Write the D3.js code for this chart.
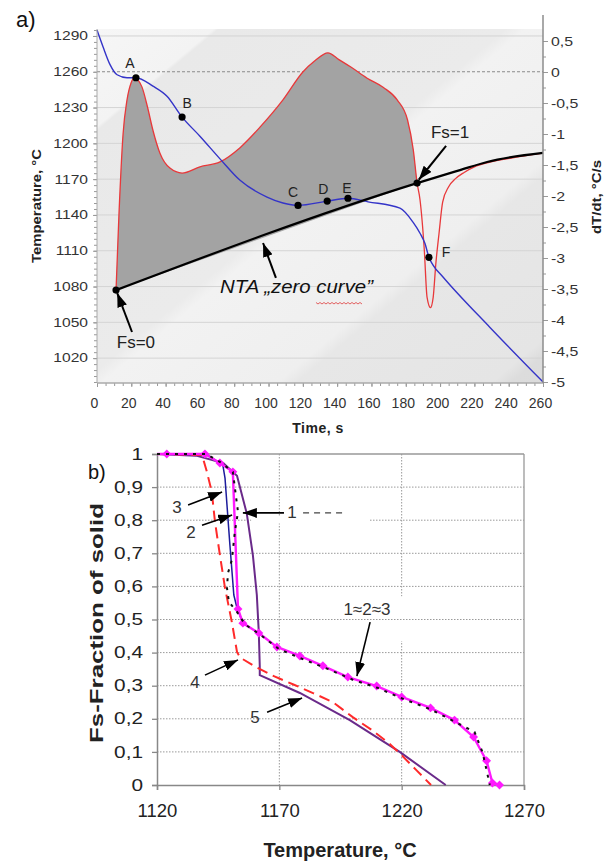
<!DOCTYPE html>
<html>
<head>
<meta charset="utf-8">
<script src="https://cdn.jsdelivr.net/npm/d3@7"></script>
<style>
  body { margin: 0; background: #fff; }
  text { font-family: Arial, "Liberation Sans", sans-serif; }
</style>
</head>
<body>
<div id="chart"></div>
<script>
// ---------- panel a data ----------
var timeTicks = d3.range(0, 261, 20);
var tempTicks = d3.range(1020, 1291, 30);
var rateTicks = d3.range(-5, 0.51, 0.5);

// cooling curve, [time s, temperature C]
var coolingCurve = [[0,1295],[3.5,1281],[7.6,1266],[11.7,1257.5],[17.5,1255],[22.7,1255],[32.6,1248],
  [40.8,1239.5],[49.6,1222],[60,1206],[71.7,1187],[83.4,1169],[99.1,1155],[108.4,1150],[117.2,1148],
  [134.2,1151.6],[146.3,1154],[158,1151],[176.6,1145.7],[184.2,1134],[188.3,1124.7],[191.2,1116],
  [193.5,1104.5],[195.9,1098],[201.7,1088],[229.1,1045.7],[260,1000]];

// first derivative, [time s, dT/dt C/s]
var rateCurve = [[11.1,-3.52],[12.8,-2.3],[15.2,-1.0],[17.5,-0.45],[19.8,-0.18],[21.8,-0.1],[23.5,-0.12],
  [26.2,-0.24],[29.4,-0.56],[32.6,-0.94],[36.7,-1.31],[42.5,-1.55],[49.6,-1.63],[60,-1.53],[71.7,-1.45],
  [83.4,-1.22],[95,-0.89],[108.4,-0.45],[120,0],[127,0.18],[134.6,0.31],[141,0.2],[148,0.08],[157.5,-0.1],
  [167,-0.25],[175,-0.45],[181,-0.77],[184.4,-1.26],[186.6,-1.79],[188.3,-2.06],[190.8,-2.87],[192.4,-3.63],
  [194.4,-3.8],[196,-3.63],[197.5,-3.1],[199.4,-2.6],[201.5,-2.1],[205,-1.85],[209,-1.72],[214,-1.62],
  [220,-1.53],[228,-1.46],[243,-1.38],[260,-1.31]];

// NTA zero curve, [time s, temperature C]
var zeroCurve = [[11.1,1077],[186.6,1166.7],[211.6,1177.6],[227.4,1184.4],[260,1192]];

// characteristic points
var pointNames = ["A", "B", "C", "D", "E", "F", "Fs=0", "Fs=1"];
var pointTimes = [22.7, 49.6, 117.2, 134.2, 146.3, 193.5, 11.1, 186.6];
var pointTemps = [1255, 1222, 1148, 1151.6, 1154, 1104.5, 1077, 1166.7];

// ---------- panel b data ----------
var fsTicks = d3.range(0, 1.001, 0.1);
var tempTicksB = [1120, 1170, 1220, 1270];

var curve123 = [[1120,1],[1124,1],[1139.6,1],[1145.7,0.973],[1151,0.946],[1153.1,0.532],[1155.1,0.489],
  [1161.6,0.459],[1169,0.417],[1178.4,0.39],[1187.8,0.36],[1198,0.326],[1209.8,0.299],[1220,0.266],
  [1231.8,0.233],[1241.6,0.196],[1249.4,0.145],[1254.7,0.073],[1257.1,0.006],[1260,0]];
var curve1 = [[1120,1],[1140,1],[1146,0.975],[1151,0.946],[1153.1,0.825],[1151.8,0.764],[1150.6,0.68],
  [1149,0.64],[1148.6,0.595],[1149.4,0.553],[1152.7,0.523],[1156,0.485],[1162,0.455],[1170,0.41],
  [1178,0.385],[1190,0.35],[1200,0.318],[1210,0.294],[1220,0.262],[1232,0.228],[1242,0.19],
  [1249.8,0.16],[1253,0.1],[1254.7,0.045],[1256,0]];
var curve3 = [[1120,1],[1140,1],[1146.9,0.967],[1147.8,0.927],[1149.8,0.725],[1151.4,0.574],
  [1152.7,0.535],[1155.1,0.489]];
var curve4 = [[1120,1],[1138.4,0.997],[1140.4,0.946],[1142.4,0.885],[1143.7,0.795],[1145.7,0.695],
  [1147.8,0.595],[1150.6,0.492],[1152.7,0.402],[1154,0.385],[1160,0.358],[1168,0.328],[1176,0.303],
  [1184,0.277],[1192,0.25],[1200,0.205],[1208,0.165],[1215,0.125],[1220,0.09],[1226,0.045],[1232,0]];
var curve5 = [[1120,1],[1136,0.995],[1147,0.973],[1152.7,0.934],[1156.7,0.82],[1159.2,0.694],
  [1160.8,0.574],[1161.6,0.462],[1162,0.36],[1162,0.332],[1178.4,0.278],[1198.8,0.196],
  [1219.2,0.1],[1238,0]];

var commaFmt = function(d) { return (+(+d).toFixed(1) + "").replace(".", ","); };

var svg = d3.select("#chart").append("svg")
    .attr("width", 608).attr("height", 863);

var defs = svg.append("defs");
defs.append("marker")
    .attr("id", "head")
    .attr("markerUnits", "userSpaceOnUse")
    .attr("viewBox", "0 0 14 10")
    .attr("refX", 14).attr("refY", 5)
    .attr("markerWidth", 14).attr("markerHeight", 10)
    .attr("orient", "auto")
  .append("path").attr("d", "M0,0 L14,5 L0,10 Z").attr("fill", "#000");

// diagonal shading of the excel plot area
var grad = defs.append("linearGradient").attr("id", "bg")
    .attr("gradientUnits", "userSpaceOnUse")
    .attr("x1", 97).attr("y1", 29).attr("x2", 497).attr("y2", 508);
[[0,"#f6f6f6"],[0.12,"#f3f3f3"],[0.125,"#e9e9e9"],[0.42,"#ebebeb"],[0.44,"#f2f2f2"],
 [0.62,"#efefef"],[0.64,"#e7e7e7"],[0.84,"#e5e5e5"],[0.86,"#dcdcdc"],[1,"#d9d9d9"]]
  .forEach(function(s) { grad.append("stop").attr("offset", s[0]).attr("stop-color", s[1]); });

// ================= panel a =================
var x = d3.scaleLinear().domain([0, 260]).range([97, 543]);
var yT = d3.scaleLinear().domain([1000, 1295]).range([382, 30]);
var yR = d3.scaleLinear().domain([-5, 0.5]).range([382, 41]);

var ga = svg.append("g");
ga.append("rect").attr("x", 97).attr("y", 29).attr("width", 446).attr("height", 354)
    .attr("fill", "url(#bg)");

// gridlines
ga.append("g").selectAll("line").data(tempTicks).enter().append("line")
    .attr("x1", 97).attr("x2", 543)
    .attr("y1", function(d) { return yT(d); }).attr("y2", function(d) { return yT(d); })
    .attr("stroke", function(d) { return d === 1260 ? "#8a8a8a" : "#d4d4d4"; })
    .attr("stroke-dasharray", function(d) { return d === 1260 ? "3,2" : null; })
    .attr("stroke-width", 1);

// area between dT/dt and zero curve
var lineR = d3.line().x(function(d) { return x(d[0]); }).y(function(d) { return yR(d[1]); })
    .curve(d3.curveMonotoneX);
var lineT = d3.line().x(function(d) { return x(d[0]); }).y(function(d) { return yT(d[1]); })
    .curve(d3.curveMonotoneX);
var fsEnd = zeroCurve[1][0];
var areaPath = lineR(rateCurve.filter(function(d) { return d[0] <= fsEnd; })) +
    "L" + x(zeroCurve[1][0]) + "," + yT(zeroCurve[1][1]) +
    "L" + x(zeroCurve[0][0]) + "," + yT(zeroCurve[0][1]) + "Z";
ga.append("path").attr("d", areaPath).attr("fill", "#a3a3a3");

ga.append("path").attr("d", lineR(rateCurve))
    .attr("fill", "none").attr("stroke", "#e8383a").attr("stroke-width", 1.3);
ga.append("path").attr("d", lineT(coolingCurve))
    .attr("fill", "none").attr("stroke", "#3434c8").attr("stroke-width", 1.4);
ga.append("path").attr("d", lineT(zeroCurve))
    .attr("fill", "none").attr("stroke", "#000").attr("stroke-width", 2.2);

// axes
var axL = ga.append("g").attr("transform", "translate(97,0)")
    .call(d3.axisLeft(yT).tickValues(d3.range(1000, 1296, 5)).tickSize(3).tickFormat(""));
var axL2 = ga.append("g").attr("transform", "translate(97,0)")
    .call(d3.axisLeft(yT).tickValues(tempTicks).tickSize(4).tickPadding(8).tickFormat(d3.format("d")));
axL2.selectAll("text").attr("font-size", 12).attr("fill", "#333")
    .attr("transform", "scale(1.3,1)").attr("x", -9 / 1.3);
var axR = ga.append("g").attr("transform", "translate(543,0)")
    .call(d3.axisRight(yR).tickValues(d3.range(-5, 0.51, 0.25)).tickSize(3).tickFormat(""));
var axR2 = ga.append("g").attr("transform", "translate(543,0)")
    .call(d3.axisRight(yR).tickValues(rateTicks).tickSize(5).tickFormat(commaFmt));
axR2.selectAll("text").attr("font-size", 12.5).attr("fill", "#333")
    .attr("transform", "scale(1.27,1)").attr("x", 8 / 1.27);
var axB = ga.append("g").attr("transform", "translate(0,383)")
    .call(d3.axisBottom(x).tickValues(d3.range(0, 261, 5)).tickSize(3).tickFormat(""));
var axB2 = ga.append("g").attr("transform", "translate(0,383)")
    .call(d3.axisBottom(x).tickValues(timeTicks).tickSize(4).tickPadding(11).tickFormat(d3.format("d")));
axB2.selectAll("text").attr("font-size", 14).attr("fill", "#333").attr("dx", -3);
[axL, axL2, axR, axR2, axB, axB2].forEach(function(a) {
  a.select(".domain").remove();
  a.selectAll(".tick line").attr("stroke", "#999");
});
ga.append("line").attr("x1", 97).attr("x2", 97).attr("y1", 29).attr("y2", 383).attr("stroke", "#aaa");
ga.append("line").attr("x1", 97).attr("x2", 543).attr("y1", 383).attr("y2", 383).attr("stroke", "#aaa").attr("stroke-width", 1.5);
ga.append("line").attr("x1", 543).attr("x2", 543).attr("y1", 15).attr("y2", 383).attr("stroke", "#8c8c8c").attr("stroke-width", 1.5);

// characteristic points
ga.append("g").selectAll("circle").data(pointNames).enter().append("circle")
    .attr("cx", function(d, i) { return x(pointTimes[i]); })
    .attr("cy", function(d, i) { return yT(pointTemps[i]); })
    .attr("r", 3.6).attr("fill", "#000");

// point labels (offsets in px from the point)
var labelOff = { A: [-6, -15], B: [5, -14], C: [-5, -13], D: [-4, -12], E: [-1, -10], F: [17, -5] };
ga.append("g").selectAll("text").data(pointNames.slice(0, 6)).enter().append("text")
    .attr("x", function(d, i) { return x(pointTimes[i]) + labelOff[d][0]; })
    .attr("y", function(d, i) { return yT(pointTemps[i]) + labelOff[d][1]; })
    .attr("text-anchor", "middle").attr("dominant-baseline", "central")
    .attr("font-size", 14).attr("fill", "#222").text(function(d) { return d; });

function arrow(g, x1, y1, x2, y2, w) {
  g.append("line").attr("x1", x1).attr("y1", y1).attr("x2", x2).attr("y2", y2)
    .attr("stroke", "#000").attr("stroke-width", w || 2).attr("marker-end", "url(#head)");
}
arrow(ga, x(203.5), yT(1197.8), x(187.6), yT(1169.5), 2);
arrow(ga, x(20.4), yT(1041.9), x(11.8), yT(1074.5), 2);
arrow(ga, x(104.3), yT(1087.2), x(96.8), yT(1116.5), 2);

ga.append("text").attr("x", x(205.8)).attr("y", yT(1209.5)).attr("text-anchor", "middle")
    .attr("dominant-baseline", "central").attr("font-family", "Lato").attr("font-size", 17)
    .attr("fill", "#222").text("Fs=1");
ga.append("text").attr("x", x(22.7)).attr("y", yT(1033.5)).attr("text-anchor", "middle")
    .attr("dominant-baseline", "central").attr("font-family", "Lato").attr("font-size", 17)
    .attr("fill", "#222").text("Fs=0");
var ntaX = x(71.7), ntaY = yT(1074.6);
ga.append("text").attr("x", ntaX).attr("y", ntaY)
    .attr("font-family", "Lato").attr("font-style", "italic").attr("font-size", 18)
    .attr("textLength", 153).attr("lengthAdjust", "spacingAndGlyphs")
    .attr("fill", "#111").text("NTA \u201Ezero curve\u201D");
// spell-check squiggle under "curve"
var sq = d3.range(0, 48, 2).map(function(d, i) { return [ntaX + 96 + d, ntaY + 10 + (i % 2 ? 1 : -0.5)]; });
ga.append("path").attr("d", d3.line()(sq)).attr("fill", "none").attr("stroke", "#e05050").attr("stroke-width", 0.9);

// titles
ga.append("text").attr("x", 16).attr("y", 27).attr("font-size", 22).attr("fill", "#111").text("a)");
ga.append("text").attr("transform", "translate(41,206) rotate(-90)").attr("text-anchor", "middle")
    .attr("font-size", 12.5).attr("font-weight", "bold").attr("fill", "#222")
    .attr("textLength", 114).attr("lengthAdjust", "spacingAndGlyphs").text("Temperature, \u00B0C");
ga.append("text").attr("transform", "translate(601,197) rotate(-90)").attr("text-anchor", "middle")
    .attr("font-size", 12.5).attr("font-weight", "bold").attr("fill", "#222")
    .attr("textLength", 74).attr("lengthAdjust", "spacingAndGlyphs").text("dT/dt, \u00B0C/s");
ga.append("text").attr("x", 318).attr("y", 433).attr("text-anchor", "middle")
    .attr("font-size", 14).attr("font-weight", "bold").attr("fill", "#222")
    .attr("letter-spacing", 0.5).text("Time, s");

// ================= panel b =================
var xb = d3.scaleLinear().domain([1120, 1270]).range([157, 524]);
var yb = d3.scaleLinear().domain([0, 1]).range([785, 454]);
var gb = svg.append("g");

// dotted gridlines
gb.append("g").selectAll("line").data([1170, 1220]).enter().append("line")
    .attr("x1", function(d) { return xb(d); }).attr("x2", function(d) { return xb(d); })
    .attr("y1", yb(1)).attr("y2", yb(0))
    .attr("stroke", "#9a9a9a").attr("stroke-dasharray", "1.5,1.5");
// label boxes hide the grid behind them
gb.append("rect").attr("x", xb(1203.5)).attr("y", yb(0.57)).attr("width", xb(1227) - xb(1203.5))
    .attr("height", yb(0.435) - yb(0.57)).attr("fill", "#fff");
gb.append("g").selectAll("line").data(fsTicks.slice(1, 10)).enter().append("line")
    .attr("x1", xb(1120)).attr("x2", xb(1270))
    .attr("y1", function(d) { return yb(d); }).attr("y2", function(d) { return yb(d); })
    .attr("stroke", "#9a9a9a").attr("stroke-dasharray", "1.5,1.5");
gb.append("rect").attr("x", xb(1158.5)).attr("y", yb(0.81)).attr("width", xb(1207) - xb(1158.5))
    .attr("height", yb(0.79) - yb(0.81)).attr("fill", "#fff");

// frame
gb.append("line").attr("x1", xb(1120)).attr("x2", xb(1270)).attr("y1", yb(1)).attr("y2", yb(1)).attr("stroke", "#999").attr("stroke-width", 1.3);
gb.append("line").attr("x1", xb(1270)).attr("x2", xb(1270)).attr("y1", yb(1)).attr("y2", yb(0)).attr("stroke", "#999").attr("stroke-width", 1.3);

var ayb = gb.append("g").attr("transform", "translate(157,0)")
    .call(d3.axisLeft(yb).tickValues(fsTicks).tickSize(5).tickPadding(9).tickFormat(commaFmt));
ayb.selectAll("text").attr("font-size", 16).attr("fill", "#222")
    .attr("transform", "scale(1.3,1)").attr("x", -14 / 1.3);
var axb = gb.append("g").attr("transform", "translate(0,785)")
    .call(d3.axisBottom(xb).tickValues(tempTicksB).tickSize(5).tickPadding(14).tickFormat(d3.format("d")));
axb.selectAll("text").attr("font-size", 18.5).attr("fill", "#222");
[ayb, axb].forEach(function(a) {
  a.select(".domain").attr("stroke", "#888").attr("stroke-width", 1.5);
  a.selectAll(".tick line").attr("stroke", "#888").attr("stroke-width", 1.3);
});

var lineB = d3.line().x(function(d) { return xb(d[0]); }).y(function(d) { return yb(d[1]); });
gb.append("path").attr("d", lineB(curve5)).attr("fill", "none")
    .attr("stroke", "#6a2a8a").attr("stroke-width", 2);
gb.append("path").attr("d", lineB(curve4)).attr("fill", "none")
    .attr("stroke", "#ff2a2a").attr("stroke-width", 2).attr("stroke-dasharray", "11,6");
gb.append("path").attr("d", lineB(curve3)).attr("fill", "none")
    .attr("stroke", "#1c1c9c").attr("stroke-width", 1.5);
gb.append("path").attr("d", lineB(curve123)).attr("fill", "none")
    .attr("stroke", "#ff1aff").attr("stroke-width", 2.4);
gb.append("g").selectAll("path").data(curve123.slice(1)).enter().append("path")
    .attr("d", d3.symbol().type(d3.symbolSquare).size(40))
    .attr("transform", function(d) { return "translate(" + xb(d[0]) + "," + yb(d[1]) + ") rotate(45)"; })
    .attr("fill", "#ff1aff");
gb.append("path").attr("d", lineB(curve1)).attr("fill", "none")
    .attr("stroke", "#111").attr("stroke-width", 2).attr("stroke-dasharray", "3,6");

// annotations
arrow(gb, xb(1132.7), yb(0.846), xb(1146.6), yb(0.885), 1.6);
arrow(gb, xb(1138.4), yb(0.785), xb(1150.7), yb(0.816), 1.6);
arrow(gb, xb(1171.9), yb(0.822), xb(1155.1), yb(0.822), 1.6);
arrow(gb, xb(1139.6), yb(0.332), xb(1153.1), yb(0.378), 1.6);
arrow(gb, xb(1165), yb(0.22), xb(1179.3), yb(0.263), 1.6);
arrow(gb, xb(1207.1), yb(0.492), xb(1201.7), yb(0.329), 1.6);
gb.append("line").attr("x1", xb(1179.7)).attr("x2", xb(1196.5)).attr("y1", yb(0.822)).attr("y2", yb(0.822))
    .attr("stroke", "#444").attr("stroke-width", 1.3).attr("stroke-dasharray", "6,5");

var bLabels = ["3", "2", "1", "4", "5", "1\u22482\u22483"];
var bLabelT = [1128.2, 1133.9, 1175.2, 1135.5, 1160, 1205.8];
var bLabelF = [0.837, 0.764, 0.822, 0.311, 0.205, 0.529];
gb.append("g").selectAll("text").data(bLabels).enter().append("text")
    .attr("x", function(d, i) { return xb(bLabelT[i]); })
    .attr("y", function(d, i) { return yb(bLabelF[i]); })
    .attr("text-anchor", "middle").attr("dominant-baseline", "central")
    .attr("font-family", "Lato").attr("font-size", 17).attr("fill", "#333")
    .text(function(d) { return d; });

gb.append("text").attr("x", 88).attr("y", 479).attr("font-size", 20).attr("fill", "#111").text("b)");
gb.append("text").attr("transform", "translate(103,623) rotate(-90)").attr("text-anchor", "middle")
    .attr("font-size", 19).attr("font-weight", "bold").attr("fill", "#222")
    .attr("textLength", 240).attr("lengthAdjust", "spacingAndGlyphs").text("Fs-Fraction of solid");
gb.append("text").attr("x", 340).attr("y", 857).attr("text-anchor", "middle")
    .attr("font-size", 20).attr("font-weight", "bold").attr("fill", "#222").text("Temperature, \u00B0C");
</script>
</body>
</html>
